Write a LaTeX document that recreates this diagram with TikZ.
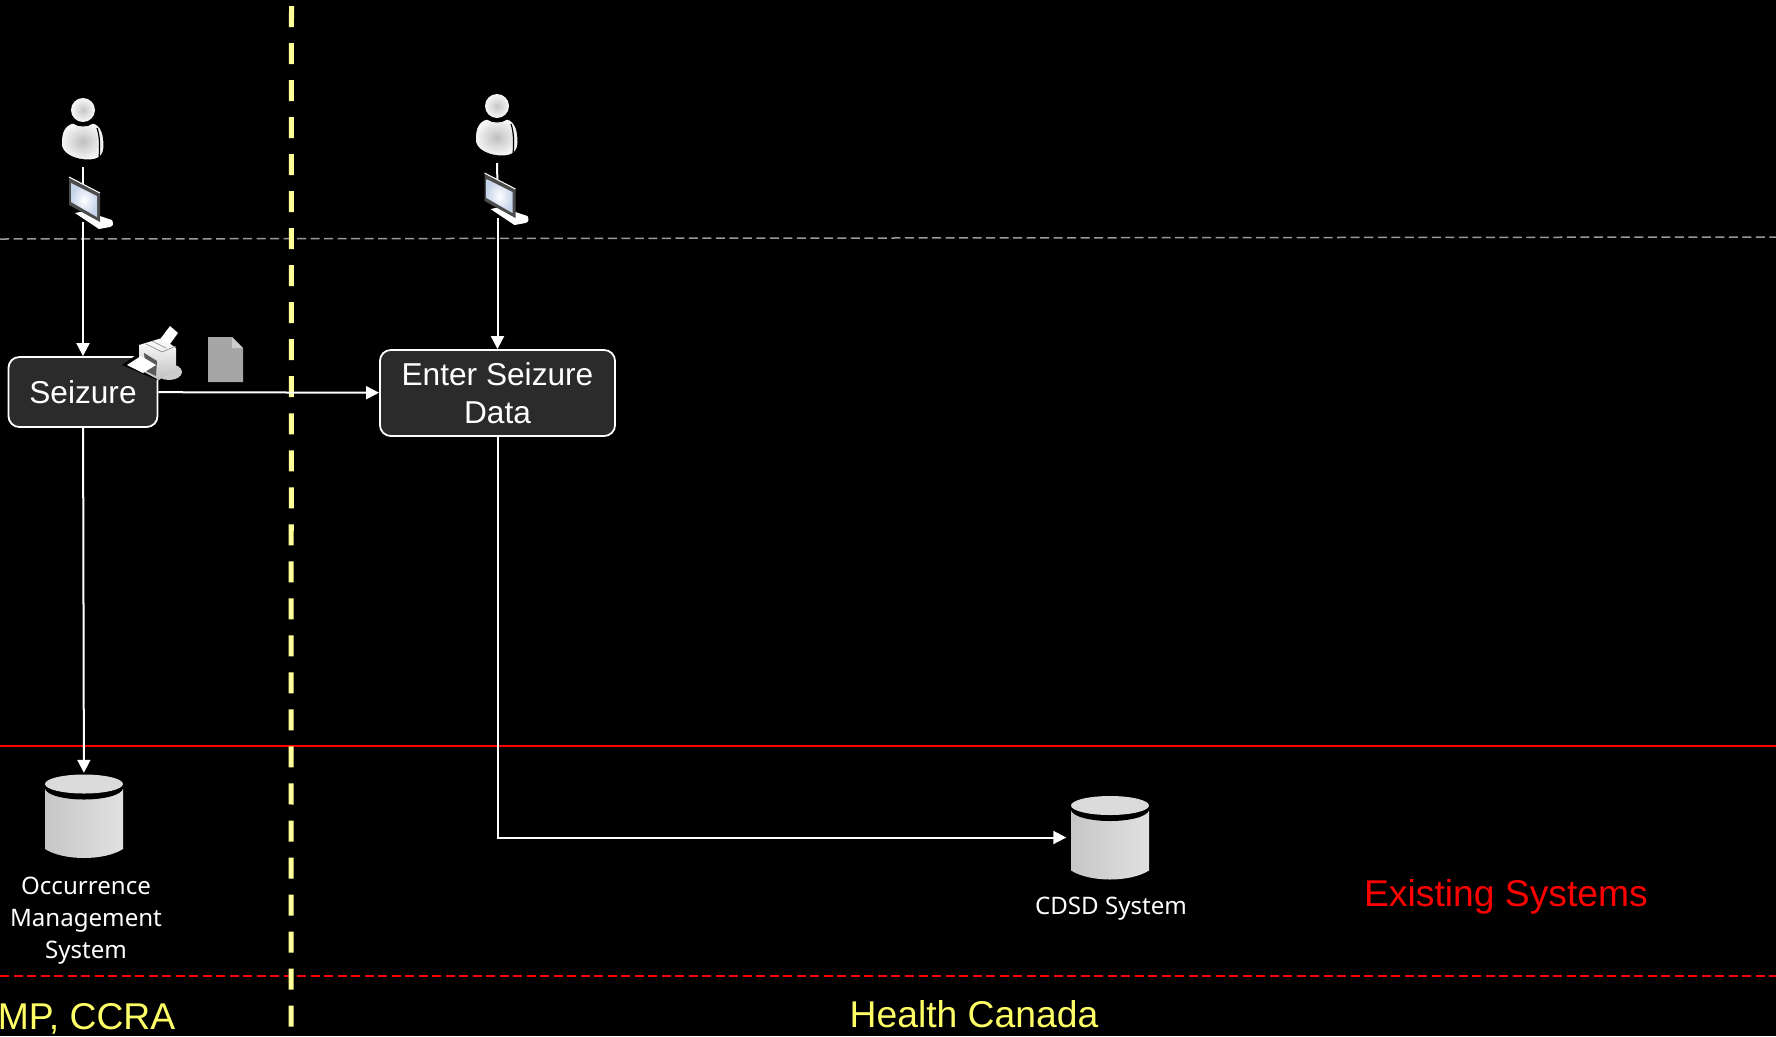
\documentclass[tikz,border=0pt]{standalone}
\usepackage{fontspec}
\setmainfont{Liberation Sans}
\newfontfamily\labelfont{Noto Sans}
\usetikzlibrary{arrows.meta}
\definecolor{boxgray}{HTML}{2B2B2B}
\definecolor{lineyellow}{HTML}{FFFF99}
\definecolor{textyellow}{HTML}{FFFF66}
\definecolor{screenblue}{HTML}{C5D3EA}
\tikzset{
	procbox/.style={draw=white,fill=boxgray,line width=0.018cm,rounded corners=0.11cm,text=white,align=center,inner sep=0pt,font=\fontsize{9}{10.95}\selectfont},
	dbbox/.style={minimum width=0.86cm,minimum height=0.85cm,inner sep=0pt},
	dblabel/.style={text=white,align=center,inner sep=0pt,font=\labelfont\fontsize{6.85}{9}\selectfont},
	headtext/.style={anchor=base,inner sep=0pt,font=\fontsize{10.6}{12}\selectfont},
	flow/.style={draw=white,line width=0.02cm,-{Triangle[length=0.13cm,width=0.13cm]}},
	pics/dbshape/.style={code={
		\path[left color=black!22,right color=black!12] (-39,-27) -- (-39,33) .. controls (-20,45) and (20,45) .. (39,33) -- (39,-27) -- cycle;
		\fill[black] (0,-28) ellipse [x radius=39,y radius=11.5];
		\fill[black!14] (0,-32) ellipse [x radius=39,y radius=9.5];
	}},
	pics/usershape/.style={code={
		\shade[inner color=black!22,outer color=black!3] (0,0) circle [radius=12];
		\shade[inner color=black!25,outer color=black!3,draw=black,line width=0.01cm] (-10,13) .. controls (-20,15) and (-22,26) .. (-22,33) .. controls (-22,44) and (-8,50) .. (5,50) .. controls (14,50) and (21,47) .. (21,36) .. controls (21,26) and (19,15) .. (10,13) .. controls (4,17) and (-4,17) .. (-10,13) -- cycle;
		\draw[black,line width=0.012cm] (14,18) .. controls (17,26) and (17,38) .. (16,48);
		\draw[black,line width=0.012cm] (-21,24) .. controls (-22,30) and (-22,36) .. (-21,40);
		\draw[black,line width=0.012cm] (-10,12) .. controls (-4,15) and (4,15) .. (10,12);
	}},
	pics/pcshape/.style={code={
		\fill[white] (-8,36) -- (2,34) -- (29,43) .. controls (31,47) and (30,49) .. (27,50) -- (16,52) -- cycle;
		\fill[black!70] (-14,0) -- (17,16) -- (17,45) -- (-14,28) -- cycle;
		\draw[white,line width=0.01cm] (-14,0) -- (17,16);
		\shade[inner color=white,outer color=screenblue] (-12,6) -- (14,19) -- (14,40) -- (-12,25) -- cycle;
	}},
	pics/printershape/.style={code={
		\fill[black!20] (20,22) ellipse [x radius=13,y radius=8];
		\fill[black] (-27,15) -- (-10,3) -- (15,16) -- (8,30) -- cycle;
		\shade[top color=white,bottom color=black!25] (-10,-5) -- (13,-12) -- (27,-2) -- (27,19) -- (10,30) -- (-5,22) -- (-10,10) -- cycle;
		\fill[white] (12,-12) -- (21,-24) -- (29,-17) -- (21,-6) -- cycle;
		\draw[black!50,line width=0.006cm] (-3,-6) -- (13,2) -- (27,-4);
		\draw[black!50,line width=0.006cm] (3,-9) -- (17,-2);
		\fill[black!65] (-5,3) -- (8,11) -- (7,26) -- (-3,21) -- cycle;
		\fill[white] (-22,15) -- (-8,6) -- (7,15) -- (-6,23) -- cycle;
	}},
}
\begin{document}
\begin{tikzpicture}[x=0.01cm,y=-0.01cm]
	\clip (0,0) rectangle (1776,1036);
	\fill[black] (0,0) rectangle (1776,1036);

	\draw[black!40,line width=0.015cm,dash pattern=on 0.09cm off 0.045cm] (0,239) -- (1776,237);
	\draw[red,line width=0.018cm] (0,746) -- (1776,746);
	\draw[red,line width=0.018cm,dash pattern=on 0.09cm off 0.045cm] (0,976) -- (1776,976);
	\draw[lineyellow,line width=0.05cm,dash pattern=on 0.21cm off 0.16cm] (291.5,6) -- (291,1030);

	\node[procbox,minimum width=1.49cm,minimum height=0.70cm] (seizure) at (83,392) {\raisebox{-2pt}{Seizure}};
	\node[procbox,minimum width=2.35cm,minimum height=0.86cm] (enter) at (497.5,393) {Enter Seizure\\Data};
	\node[dbbox] (oms) at (84,816) {};
	\node[dbbox] (cdsd) at (1110,837.5) {};
	\pic at (oms) {dbshape};
	\pic at (cdsd) {dbshape};

	\coordinate (usera) at (83,167);
	\coordinate (usere) at (497,163);
	\coordinate (pca) at (83,190);
	\coordinate (pce) at (497.5,186);

	\draw[white,line width=0.02cm] (usera) -- (pca);
	\draw[white,line width=0.02cm] (usere) -- (pce);
	\pic at (83,110) {usershape};
	\pic at (497,106) {usershape};
	\pic at (83,177) {pcshape};
	\pic at (498.5,173) {pcshape};

	\draw[flow] (pca) ++(0,32) -- (seizure);
	\draw[flow] (pce) ++(0,32) -- (enter);
	\draw[flow] (seizure) -- (enter);
	\draw[flow] (seizure) -- (oms);
	\draw[flow] (enter) |- (cdsd);

	\pic at (149,350) {printershape};

	\fill[black!35] (208,337) -- (232,337) -- (243,348) -- (243,382) -- (208,382) -- cycle;
	\fill[black!20] (232,337) -- (243,348) -- (232,348) -- cycle;

	\node[dblabel] (omslabel) at (86,920.5) {Occurrence\\Management\\System};
	\node[dblabel] (cdsdlabel) at (1111,908.5) {CDSD System};
	\node[headtext,red] (existing) at (1506,906) {Existing Systems};
	\node[headtext,textyellow] (canada) at (974,1027.5) {Health Canada};
	\node[headtext,textyellow,anchor=base east] (ccra) at (176,1029) {MP, CCRA};
\end{tikzpicture}
\end{document}
